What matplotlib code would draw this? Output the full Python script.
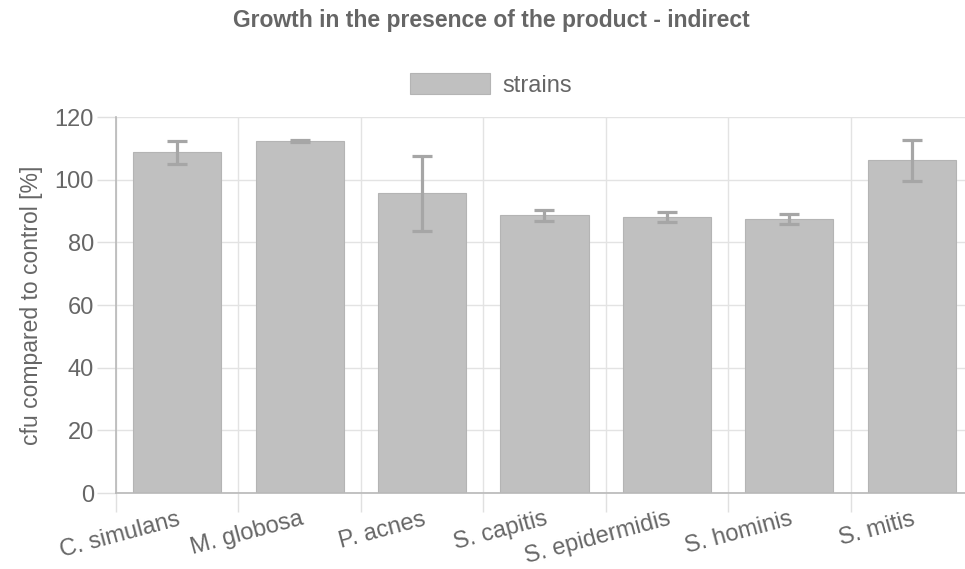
import matplotlib
matplotlib.use("Agg")
import numpy as np
from matplotlib import pyplot as plt

strains = ["C. simulans", "M. globosa", "P. acnes", "S. capitis",
           "S. epidermidis", "S. hominis", "S. mitis"]
growth = [108.8, 112.3, 95.6, 88.6, 88.1, 87.6, 106.2]
growth_err = [3.7, 0.3, 12.0, 1.7, 1.6, 1.6, 6.6]

TEXT = "#666666"
BAR = "#c0c0c0"

plt.rcParams["font.family"] = ["Liberation Sans", "DejaVu Sans"]

W, H = 965, 569
fig = plt.figure(figsize=(W / 100, H / 100), dpi=100)
# plot area runs slightly past the right edge of the canvas, like the original
left, right, top, bottom = 116, 973, 117, 493
ax = fig.add_axes([left / W, 1 - bottom / H, (right - left) / W, (bottom - top) / H])

x = np.arange(len(strains))
ax.bar(x, growth, width=0.72, color=BAR, edgecolor="#b4b4b4", linewidth=0.8, zorder=2,
       label="strains")
ax.errorbar(x, growth, yerr=growth_err, fmt="none", ecolor="#a6a6a6",
            elinewidth=2.3, capsize=7.5, capthick=2.3, zorder=3)

ax.set_xlim(-0.5, len(strains) - 0.5)
ax.set_ylim(0, 120)
ax.set_yticks(range(0, 121, 20))

# grid lines sit between categories on x
ax.set_xticks(np.arange(-0.5, len(strains)), minor=False)
ax.set_xticklabels([])
ax.set_xticks(x, minor=True)
ax.set_xticklabels(strains, minor=True, rotation=15, ha="right",
                   rotation_mode="anchor", color=TEXT, fontsize=17)
ax.tick_params(axis="x", which="major", length=14, color="#e0e0e0", width=1)
ax.tick_params(axis="x", which="minor", length=0, pad=11)
ax.tick_params(axis="y", length=14, color="#e0e0e0", width=1, labelsize=17,
               labelcolor=TEXT, pad=2)

ax.grid(True, which="major", color="#e3e3e3", linewidth=1, zorder=0)
ax.set_axisbelow(True)
for side in ["top", "right"]:
    ax.spines[side].set_visible(False)
for side in ["left", "bottom"]:
    ax.spines[side].set_color("#b8b8b8")
    ax.spines[side].set_linewidth(1.2)

ax.set_ylabel("cfu compared to control [%]", color=TEXT, fontsize=16.5, labelpad=8)

fig.text(491 / W, 1 - 21 / H, "Growth in the presence of the product - indirect",
         ha="center", va="center", fontsize=16.5, fontweight="bold", color=TEXT)
fig.legend(loc="center", bbox_to_anchor=(491 / W, 1 - 85 / H), frameon=False,
           fontsize=17, labelcolor=TEXT, handlelength=3.4, handleheight=1.0,
           handletextpad=0.5)

plt.savefig("out.png", dpi=100)
